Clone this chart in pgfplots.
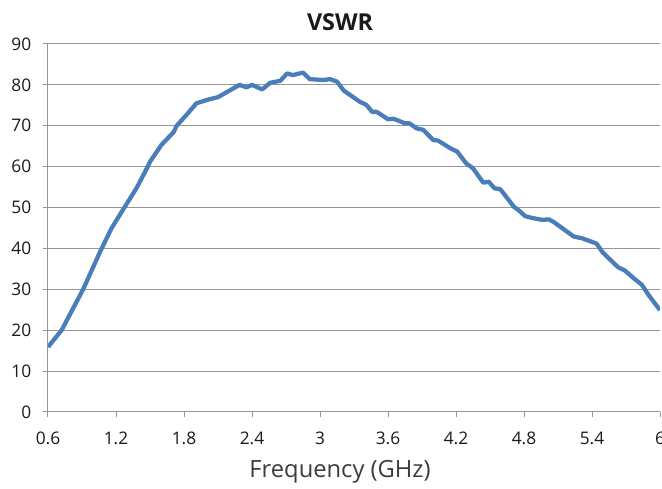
\documentclass[border=0pt]{standalone}
\usepackage{fontspec}
\setmainfont{Open Sans}
\usepackage{pgfplots}
\pgfplotsset{compat=1.18}
\usetikzlibrary{calc}
\definecolor{lineblue}{HTML}{4A7EBB}
\definecolor{gridgray}{HTML}{969696}
\definecolor{txt}{HTML}{1A1A1A}
\begin{document}
\begin{tikzpicture}
\begin{axis}[
  scale only axis, width=459pt, height=276pt,
  xmin=0.6, xmax=6, ymin=0, ymax=90,
  xtick={0.6,1.2,1.8,2.4,3,3.6,4.2,4.8,5.4,6},
  xticklabels={0.6,1.2,1.8,2.4,3,3.6,4.2,4.8,5.4,6},
  ytick={0,10,20,30,40,50,60,70,80,90},
  ymajorgrids, grid style={gridgray, line width=0.75pt},
  axis lines*=left,
  axis line style={gridgray, line width=0.75pt},
  tick style={gridgray, line width=0.75pt},
  tick align=outside, major tick length=4pt,
  /pgf/number format/assume math mode=true,
  ticklabel style={font=\fontsize{13}{15}\selectfont, text=txt},
  xticklabel style={anchor=center, yshift=-16pt},
  yticklabel style={xshift=-5pt},
  title={\textbf{VSWR}},
  title style={font=\fontsize{17.5}{19}\selectfont, text=txt, at={(axis description cs:0.5,1)}, anchor=center, yshift=10.5pt, xshift=-10.5pt},
  xlabel={Frequency (GHz)},
  xlabel style={font=\fontsize{17.8}{19}\selectfont, text=txt!85!white, at={(axis description cs:0.5,0)}, anchor=center, yshift=-45pt, xshift=-10.5pt},
]
\addplot[lineblue, line width=3.2pt, line join=round] coordinates {
(0.60,15.9) (0.72,20) (0.91,30) (1.06,39.2) (1.16,44.9) (1.26,49.4) (1.38,54.7)
(1.48,60) (1.50,61.2) (1.60,65.3) (1.71,68.5) (1.735,70) (1.82,72.6) (1.91,75.5)
(2.00,76.3) (2.10,77.0) (2.29,80) (2.35,79.4) (2.40,80) (2.49,78.9) (2.56,80.5)
(2.65,81.0) (2.71,82.8) (2.76,82.4) (2.85,83.0) (2.91,81.4) (3.03,81.2) (3.09,81.4)
(3.15,80.8) (3.21,78.6) (3.35,75.9) (3.41,75.1) (3.46,73.4) (3.50,73.4) (3.60,71.6)
(3.65,71.7) (3.75,70.6) (3.79,70.6) (3.85,69.4) (3.91,69.0) (4.00,66.5) (4.04,66.4)
(4.15,64.5) (4.21,63.7) (4.29,60.8) (4.35,59.6) (4.44,56.1) (4.49,56.3) (4.54,54.7)
(4.59,54.5) (4.63,53.1) (4.71,50.2) (4.75,49.4) (4.81,47.9) (4.88,47.4) (4.96,47.0)
(5.02,47.1) (5.06,46.5) (5.12,45.3) (5.24,42.9) (5.31,42.5) (5.44,41.2) (5.49,39.2)
(5.54,37.8) (5.63,35.4) (5.69,34.6) (5.76,32.9) (5.84,31.1) (5.90,28.6) (6.00,24.9)
};
\end{axis}
\pgfresetboundingbox
\path[use as bounding box] ($(current axis.south west)+(-36pt,-57.75pt)$) rectangle ($(current axis.north east)+(1.5pt,33pt)$);
\end{tikzpicture}
\end{document}
